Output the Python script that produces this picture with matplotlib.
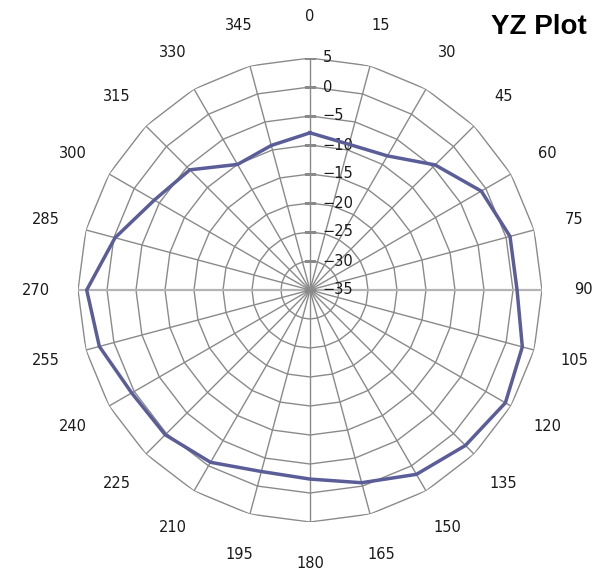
import numpy as np
import matplotlib
matplotlib.use("Agg")
import matplotlib.pyplot as plt

# ---------------------------------------------------------------- data ----
angles_deg = [0, 15, 30, 45, 60, 75, 90, 105, 120, 135, 150, 165,
              180, 195, 210, 225, 240, 255, 270, 285, 300, 315, 330, 345]
gain_db = [-7.9, -9.0, -8.3, -4.5, -0.9, 0.7, 0.7, 2.9, 3.9, 2.9, 1.7, -0.6,
           -2.4, -2.6, -0.7, 0.3, 0.5, 2.6, 3.5, -0.2, -4.0, -5.7, -10.0, -9.2]
ring_levels = [-35, -30, -25, -20, -15, -10, -5, 0, 5]
title = "YZ Plot"

grid_col = "#8a8a8a"
line_col = "#5b5d99"

fig = plt.figure(figsize=(6.03, 5.72), dpi=100)
ax = fig.add_axes([78 / 603, 50 / 572, 464 / 603, 464 / 572], projection="polar")
ax.set_theta_zero_location("N")
ax.set_theta_direction(-1)
ax.set_ylim(ring_levels[0], ring_levels[-1])
ax.grid(False)
ax.set_xticks([]); ax.set_yticks([])
ax.spines["polar"].set_visible(False)

th = np.deg2rad(angles_deg)
th_closed = np.append(th, th[0])

# polygon rings (Excel radar style)
for v in ring_levels[1:]:
    ax.plot(th_closed, [v] * len(th_closed), color=grid_col, lw=1, zorder=1)
# spokes (the 90/270 ones are lighter and a bit wider in the original)
for t, a in zip(th, angles_deg):
    if a in (90, 270):
        ax.plot([t, t], [ring_levels[0], ring_levels[-1]], color="#b4b4b4", lw=1.6, zorder=1)
    else:
        ax.plot([t, t], [ring_levels[0], ring_levels[-1]], color=grid_col, lw=1, zorder=1)

# value axis ticks + labels
for v in ring_levels:
    ax.plot(0, v, marker="_", ms=9, mew=1, color=grid_col, zorder=2)
    ax.annotate(str(v).replace("-", "\u2212"), xy=(0, v), xytext=(9, 0),
                textcoords="offset points", ha="left", va="center",
                fontsize=10.5, color="#1a1a1a", zorder=3)

# category labels
for t, a in zip(th, angles_deg):
    ax.text(t, 12.2, str(a), ha="center", va="center", fontsize=10.5,
            color="#1a1a1a", clip_on=False)

# data series
g_closed = np.append(gain_db, gain_db[0])
ax.plot(th_closed, g_closed, color=line_col, lw=2.5, zorder=4, solid_joinstyle="miter")

fig.text(587 / 603, 1 - 27 / 572, title, ha="right", va="center",
         fontsize=20, fontweight="bold", family="Liberation Sans")

fig.savefig("out.png", dpi=100)
